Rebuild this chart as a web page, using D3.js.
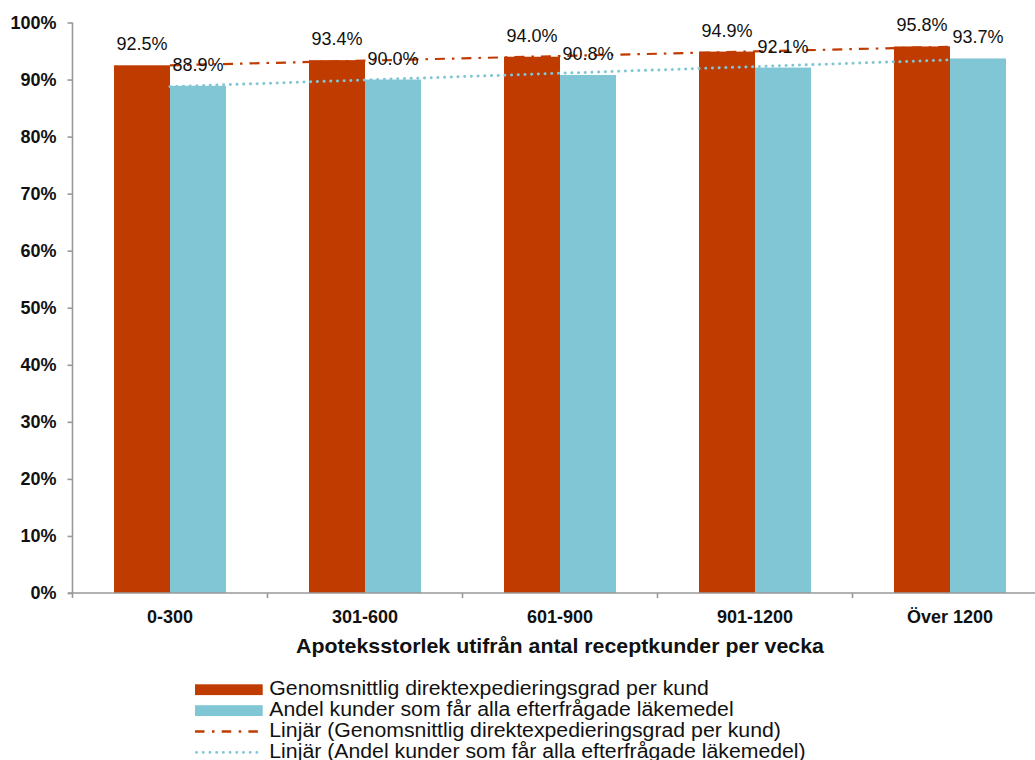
<!DOCTYPE html>
<html>
<head>
<meta charset="utf-8">
<script src="https://cdn.jsdelivr.net/npm/d3@7"></script>
<style>
  html, body { margin: 0; padding: 0; background: #fff; }
  svg { display: block; font-family: Arial, "Liberation Sans", sans-serif; }
</style>
</head>
<body>
<svg id="chart" width="1035" height="760"></svg>
<script>
// Pharmacy size classes (prescription customers per week)
const categories = ["0-300", "301-600", "601-900", "901-1200", "Över 1200"];
// Average direct-dispensing rate per customer (%)
const directRate = [92.5, 93.4, 94.0, 94.9, 95.8];
// Share of customers receiving all requested medicines (%)
const fullShare = [88.9, 90.0, 90.8, 92.1, 93.7];
const yTicks = [0, 10, 20, 30, 40, 50, 60, 70, 80, 90, 100];
const seriesNames = [
  "Genomsnittlig direktexpedieringsgrad per kund",
  "Andel kunder som får alla efterfrågade läkemedel"
];
const trendNames = [
  "Linjär (Genomsnittlig direktexpedieringsgrad per kund)",
  "Linjär (Andel kunder som får alla efterfrågade läkemedel)"
];
const xTitle = "Apoteksstorlek utifrån antal receptkunder per vecka";

const colors = ["#BF3B00", "#80C6D5"];

const svg = d3.select("#chart");

const x0 = d3.scaleBand().domain(categories).range([72.5, 1047.5]).paddingInner(0).paddingOuter(0);
const y = d3.scaleLinear().domain([0, 100]).range([593, 22.5]);
const barW = 56;
const x1 = d3.scaleBand().domain([0, 1]).range([x0.bandwidth() / 2 - barW, x0.bandwidth() / 2 + barW]);

const series = [directRate, fullShare];

// Bars
series.forEach((vals, si) => {
  svg.append("g").selectAll("rect").data(vals).join("rect")
    .attr("x", (d, i) => x0(categories[i]) + x1(si))
    .attr("y", d => y(d))
    .attr("width", x1.bandwidth())
    .attr("height", d => y(0) - y(d))
    .attr("fill", colors[si]);
});

// Linear trend lines (least squares over category index)
function linearFit(vals) {
  const n = vals.length;
  const xs = d3.range(n);
  const mx = d3.mean(xs), my = d3.mean(vals);
  const b = d3.sum(xs, (xi, i) => (xi - mx) * (vals[i] - my)) / d3.sum(xs, xi => (xi - mx) ** 2);
  const a = my - b * mx;
  return xs.map(xi => a + b * xi);
}
const cx = c => x0(c) + x0.bandwidth() / 2;
const line = d3.line().x((d, i) => cx(categories[i])).y(d => y(d));

svg.append("path").datum(linearFit(directRate))
  .attr("d", line).attr("fill", "none")
  .attr("stroke", colors[0]).attr("stroke-width", 2.2)
  .attr("stroke-dasharray", "10,7,2.5,7");
svg.append("path").datum(linearFit(fullShare))
  .attr("d", line).attr("fill", "none")
  .attr("stroke", colors[1]).attr("stroke-width", 3)
  .attr("stroke-linecap", "round")
  .attr("stroke-dasharray", "0.1,6.6");

// Axes
const axisColor = "#999";
const yAxis = svg.append("g").attr("transform", "translate(72.5,0)")
  .call(d3.axisLeft(y).tickValues(yTicks).tickSize(5).tickFormat(d => d + "%"));
yAxis.select(".domain").attr("stroke", axisColor).attr("stroke-width", 1.6)
  .attr("d", `M0,${y(100)}V${y(0)}`);
yAxis.selectAll(".tick line").attr("stroke", axisColor).attr("stroke-width", 1.6);
yAxis.selectAll(".tick text").attr("x", -16).attr("font-size", 18).attr("font-weight", "bold")
  .attr("fill", "#111").attr("font-family", "Arial, 'Liberation Sans', sans-serif");

const xAxis = svg.append("g").attr("transform", `translate(0,${y(0)})`);
xAxis.append("line").attr("x1", 68).attr("x2", 1047.5).attr("y1", 0).attr("y2", 0)
  .attr("stroke", axisColor).attr("stroke-width", 1.6);
xAxis.selectAll("line.tk").data(d3.range(categories.length + 1)).join("line")
  .attr("class", "tk")
  .attr("x1", i => 72.5 + i * x0.bandwidth()).attr("x2", i => 72.5 + i * x0.bandwidth())
  .attr("y1", 0).attr("y2", 5)
  .attr("stroke", axisColor).attr("stroke-width", 1.6);
xAxis.selectAll("text").data(categories).join("text")
  .attr("x", d => cx(d)).attr("y", 29.5)
  .attr("text-anchor", "middle").attr("font-size", 18).attr("font-weight", "bold")
  .attr("fill", "#111").text(d => d);

svg.append("text").attr("x", 560).attr("y", 653)
  .attr("text-anchor", "middle").attr("font-size", 20.5).attr("font-weight", "bold")
  .attr("fill", "#111")
  .attr("textLength", 528).attr("lengthAdjust", "spacingAndGlyphs")
  .text(xTitle);

// Value labels
series.forEach((vals, si) => {
  svg.append("g").selectAll("text").data(vals).join("text")
    .attr("x", (d, i) => x0(categories[i]) + x1(si) + x1.bandwidth() / 2)
    .attr("y", d => y(d) - 15)
    .attr("text-anchor", "middle").attr("font-size", 18).attr("fill", "#111")
    .text(d => d.toFixed(1) + "%");
});

// Legend
const legend = svg.append("g").attr("transform", "translate(195,0)");
const rowY = [689.7, 710.6, 731.5, 752.4];
seriesNames.forEach((name, i) => {
  legend.append("rect").attr("x", 0).attr("y", rowY[i] - 5.4).attr("width", 67.7).attr("height", 10.8)
    .attr("fill", colors[i]);
});
legend.append("line").attr("x1", 0).attr("x2", 68).attr("y1", rowY[2]).attr("y2", rowY[2])
  .attr("stroke", colors[0]).attr("stroke-width", 2.4).attr("stroke-dasharray", "9.5,7.5,2.5,7.2");
legend.append("line").attr("x1", 1.5).attr("x2", 68).attr("y1", rowY[3]).attr("y2", rowY[3])
  .attr("stroke", colors[1]).attr("stroke-width", 2.8).attr("stroke-linecap", "round")
  .attr("stroke-dasharray", "0.1,6.6");
const legendText = legend.selectAll("text.lbl").data(seriesNames.concat(trendNames)).join("text")
  .attr("class", "lbl")
  .attr("x", 74.3).attr("y", (d, i) => rowY[i] + 5.5)
  .attr("font-size", 19.5).attr("fill", "#111").text(d => d);
// legend type is set slightly wide
legendText.each(function () {
  const w = this.getComputedTextLength();
  d3.select(this).attr("textLength", w * 1.09).attr("lengthAdjust", "spacingAndGlyphs");
});
</script>
</body>
</html>
